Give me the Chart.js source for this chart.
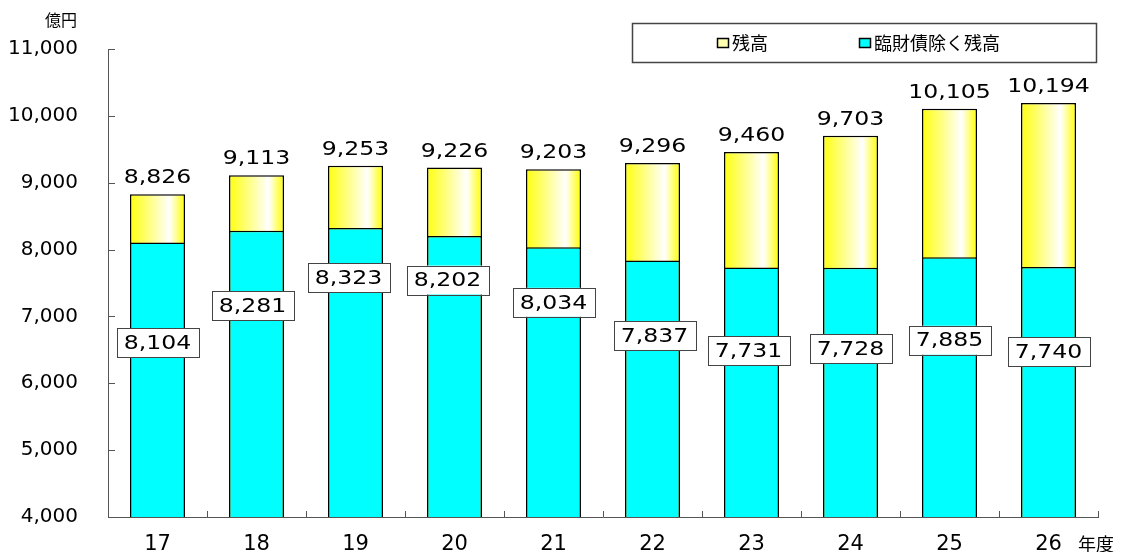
<!DOCTYPE html>
<html><head><meta charset="utf-8">
<script src="https://cdn.jsdelivr.net/npm/chart.js@4/dist/chart.umd.min.js"></script>
<style>html,body{margin:0;padding:0;background:#fff}#wrap{width:1127px;height:552px}</style>
</head><body><div id="wrap"><canvas id="c" width="1127" height="552"></canvas></div>
<script>
// ---- data ----
const categories = ['17','18','19','20','21','22','23','24','25','26'];
const totalBalance = [8826, 9113, 9253, 9226, 9203, 9296, 9460, 9703, 10105, 10194];
const exclRinzaisai = [8104, 8281, 8323, 8202, 8034, 7837, 7731, 7728, 7885, 7740];
const seriesNames = ['残高', '臨財債除く残高'];
const yMin = 4000, yMax = 11000, yStep = 1000;
const yUnit = '億円';
const xUnit = '年度';

// ---- style ----
const BAR_PCT = 0.556;
const NUM_FONT = '20px "DejaVu Sans", sans-serif';
const JP_FONT = '"Noto Sans CJK JP", sans-serif';
const STRETCH = 1.18;
// placement of the boxed labels (px below bar top, px horizontal shift)
const boxDy = [100, 75, 50, 44, 55, 75, 83, 81, 83, 85];
const boxDx = [0, -4, -7, -7, 0, 2, -3, 0, 0, 0];
const fmt = v => v.toLocaleString('en-US');

function yellowGrad(c) {
  const chart = c.chart, xs = chart.scales.x;
  if (!xs || c.type !== 'data' || !xs.width) return '#ffff66';
  const cx = xs.getPixelForValue(c.dataIndex);
  const w = xs.width / categories.length * BAR_PCT;
  const g = chart.ctx.createLinearGradient(cx - w / 2, 0, cx + w / 2, 0);
  g.addColorStop(0, '#ffff10');
  g.addColorStop(0.3, '#ffff70');
  g.addColorStop(0.72, '#ffffff');
  g.addColorStop(1, '#ffff00');
  return g;
}

function wideText(ctx, txt, cx, cy) {
  ctx.save();
  ctx.translate(cx, cy);
  ctx.scale(STRETCH, 1);
  ctx.textAlign = 'center';
  ctx.fillText(txt, 0, 0);
  ctx.restore();
}

const decor = {
  id: 'decor',
  afterDatasetsDraw(chart) {
    const { ctx } = chart;
    const mTot = chart.getDatasetMeta(0), mEx = chart.getDatasetMeta(1);
    ctx.save();
    ctx.font = NUM_FONT;
    ctx.fillStyle = '#000';
    ctx.textBaseline = 'alphabetic';
    mTot.data.forEach((bar, i) => {
      wideText(ctx, fmt(totalBalance[i]), bar.x, bar.y - 11);
    });
    mEx.data.forEach((bar, i) => {
      const txt = fmt(exclRinzaisai[i]);
      const tw = ctx.measureText(txt).width * STRETCH;
      const bw = tw + 14, bh = 29;
      const cx = bar.x + boxDx[i], cy = bar.y + boxDy[i];
      ctx.fillStyle = '#fff';
      ctx.fillRect(cx - bw / 2, cy - bh / 2, bw, bh);
      ctx.strokeStyle = '#444';
      ctx.lineWidth = 1;
      ctx.strokeRect(Math.round(cx - bw / 2) + 0.5, Math.round(cy - bh / 2) + 0.5, Math.round(bw), bh);
      ctx.fillStyle = '#000';
      ctx.textBaseline = 'middle';
      wideText(ctx, txt, cx, cy + 1);
    });
    ctx.restore();
  },
  afterDraw(chart) {
    const { ctx, chartArea: a, scales: { x, y } } = chart;
    ctx.save();
    // inward tick marks
    ctx.strokeStyle = '#555';
    ctx.lineWidth = 1;
    ctx.beginPath();
    y.ticks.forEach(t => {
      const py = Math.round(y.getPixelForValue(t.value)) + 0.5;
      ctx.moveTo(a.left, py); ctx.lineTo(a.left + 7, py);
    });
    for (let i = 1; i <= categories.length; i++) {
      const px = Math.round(x.getPixelForValue(i - 0.5)) + 0.5;
      ctx.moveTo(px, a.bottom); ctx.lineTo(px, a.bottom - 6);
    }
    ctx.stroke();
    // unit labels
    ctx.fillStyle = '#000';
    ctx.font = '16px ' + JP_FONT;
    ctx.textAlign = 'right';
    ctx.textBaseline = 'middle';
    ctx.fillText(yUnit, 77, 20);
    ctx.textAlign = 'left';
    ctx.font = '18px ' + JP_FONT;
    ctx.fillText(xUnit, 1078, 544);
    // legend
    ctx.strokeStyle = '#444';
    ctx.lineWidth = 1.5;
    ctx.strokeRect(632.5, 23.5, 464, 39);
    const items = [
      { name: seriesNames[0], fill: '#ffffb0', x: 717 },
      { name: seriesNames[1], fill: '#00ffff', x: 859 }
    ];
    items.forEach(it => {
      ctx.fillStyle = it.fill;
      ctx.fillRect(it.x, 38, 12, 10);
      ctx.strokeStyle = '#000';
      ctx.lineWidth = 1.5;
      ctx.strokeRect(it.x + 0.5, 38.5, 11, 9);
      ctx.fillStyle = '#000';
      ctx.font = '18px ' + JP_FONT;
      ctx.textAlign = 'left';
      ctx.textBaseline = 'middle';
      ctx.fillText(it.name, it.x + 15, 43);
    });
    ctx.restore();
  }
};

new Chart(document.getElementById('c'), {
  type: 'bar',
  data: {
    labels: categories,
    datasets: [
      {
        label: seriesNames[0], data: totalBalance, order: 2,
        backgroundColor: yellowGrad, borderColor: '#000', borderWidth: 1.5,
        barPercentage: BAR_PCT, categoryPercentage: 1
      },
      {
        label: seriesNames[1], data: exclRinzaisai, order: 1,
        backgroundColor: '#00ffff', borderColor: '#000', borderWidth: 1.5,
        barPercentage: BAR_PCT, categoryPercentage: 1
      }
    ]
  },
  options: {
    responsive: false,
    animation: false,
    layout: { padding: { top: 49, right: 29, bottom: 0, left: 0 } },
    plugins: { legend: { display: false }, tooltip: { enabled: false }, title: { display: false } },
    scales: {
      x: {
        stacked: true,
        grid: { display: false, drawTicks: false },
        border: { display: true, color: '#555', width: 1 },
        ticks: { color: '#000', font: { family: '"DejaVu Sans", sans-serif', size: 21 }, padding: 15, maxRotation: 0 },
        afterFit: s => { s.height = 35; s.paddingLeft = 0; s.paddingRight = 0; }
      },
      y: {
        stacked: false,
        min: yMin, max: yMax,
        grid: { display: false, drawTicks: false },
        border: { display: true, color: '#555', width: 1 },
        ticks: { stepSize: yStep, color: '#000', font: { family: '"DejaVu Sans", sans-serif', size: 20 }, padding: 30, callback: v => fmt(v) },
        afterFit: s => { s.width = 108; s.paddingTop = 0; s.paddingBottom = 0; }
      }
    }
  },
  plugins: [decor]
});
</script>
</body></html>
